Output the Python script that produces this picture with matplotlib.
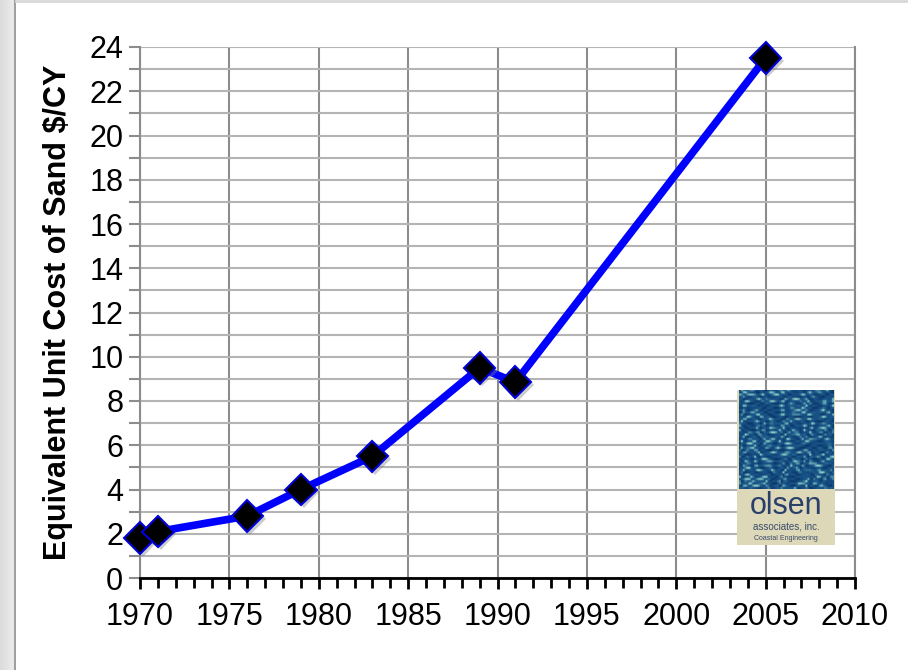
import numpy as np
import matplotlib
matplotlib.use("Agg")
import matplotlib.pyplot as plt
import matplotlib.patheffects as pe
from matplotlib.patches import Rectangle
from matplotlib.ticker import MultipleLocator

plt.rcParams['font.family'] = ['Liberation Sans', 'DejaVu Sans']

years = [1970, 1971, 1976, 1979, 1983, 1989, 1991, 2005]
cost = [1.8, 2.1, 2.8, 4.0, 5.5, 9.5, 8.85, 23.5]
ylabel = "Equivalent Unit Cost of Sand $/CY"

fig = plt.figure(figsize=(9.08, 6.70), dpi=100)
fig.patch.set_facecolor('white')

# gray frame strip on the left and thin line on top
strip = fig.add_axes([0, 0, 16 / 908, 1])
grad = np.linspace(0.86, 0.93, 16).reshape(1, -1)
strip.imshow(grad, cmap='gray', vmin=0, vmax=1, aspect='auto', extent=[0, 1, 0, 1])
strip.axvline(0.95, color='#a0a0a0', lw=1.5)
strip.axis('off')
fig.add_artist(plt.Line2D([16 / 908, 1], [0.998, 0.998], color='#d8d8d8', lw=2))

ax = fig.add_axes([140 / 908, 92 / 670, 715 / 908, 531 / 670])
ax.set_xlim(1970, 2010)
ax.set_ylim(0, 24)

ax.xaxis.set_major_locator(MultipleLocator(5))
ax.xaxis.set_minor_locator(MultipleLocator(1))
ax.yaxis.set_major_locator(MultipleLocator(2))
ax.yaxis.set_minor_locator(MultipleLocator(1))

ax.grid(True, which='major', axis='x', color='#8c8c8c', lw=1.5)
ax.grid(True, which='both', axis='y', color='#b4b4b4', lw=1.5)
ax.set_axisbelow(True)

for s in ['left', 'right', 'top']:
    ax.spines[s].set_color('#8c8c8c')
    ax.spines[s].set_linewidth(1.5)
ax.spines['top'].set_visible(False)
ax.spines['bottom'].set_color('black')
ax.spines['bottom'].set_linewidth(2)

ax.tick_params(axis='x', which='both', direction='out', color='black', width=2,
               labelsize=22, pad=9)
ax.tick_params(axis='x', which='major', length=8)
ax.tick_params(axis='x', which='minor', length=7)
ax.tick_params(axis='y', which='both', direction='out', color='#8c8c8c', width=1.5,
               length=8, labelsize=22, pad=4)

ax.plot(years, cost, color='#0000ff', lw=5.5, zorder=3, clip_on=False)
ax.plot(years, cost, ls='none', marker='D', markersize=16, markerfacecolor='black',
        markeredgecolor='#0000dd', markeredgewidth=1.5, zorder=4, clip_on=False,
        path_effects=[pe.SimplePatchShadow(offset=(2, -2), shadow_rgbFace='gray', alpha=0.4),
                      pe.Normal()])

ax.set_ylabel(ylabel, fontsize=22, fontweight='bold', labelpad=12)

# logo
lx0, lx1 = 737 / 908, 835 / 908
ly0, ly1 = (670 - 545) / 670, (670 - 390) / 670
logo = fig.add_axes([lx0, ly0, lx1 - lx0, ly1 - ly0])
logo.add_patch(Rectangle((0, 0), 1, 1, color='#dcd8b8', zorder=0))
xx, yy = np.meshgrid(np.linspace(0, 1, 50), np.linspace(0, 1, 45))
tex = np.sin(90 * yy + 4 * np.sin(13 * xx) + 2 * np.sin(31 * xx * yy)) * np.cos(23 * xx + 5 * np.sin(17 * yy))
logo.imshow(tex, cmap=matplotlib.colors.LinearSegmentedColormap.from_list(
    'sea', ['#0c3566', '#134a80', '#1c5a8a', '#8fd0c8']), extent=[0.02, 0.98, 0.36, 1.0],
    aspect='auto', vmin=-1.0, vmax=1.0, zorder=2)
logo.set_xlim(0, 1)
logo.set_ylim(0, 1)
logo.text(0.5, 0.25, "olsen", ha='center', va='center', fontsize=22, color='#2a3f6a')
logo.text(0.5, 0.12, "associates, inc.", ha='center', va='center', fontsize=7, color='#3a4a6a')
logo.text(0.5, 0.04, "Coastal Engineering", ha='center', va='center', fontsize=5, color='#3a4a6a')
logo.axis('off')

fig.savefig("out.png", dpi=100)
